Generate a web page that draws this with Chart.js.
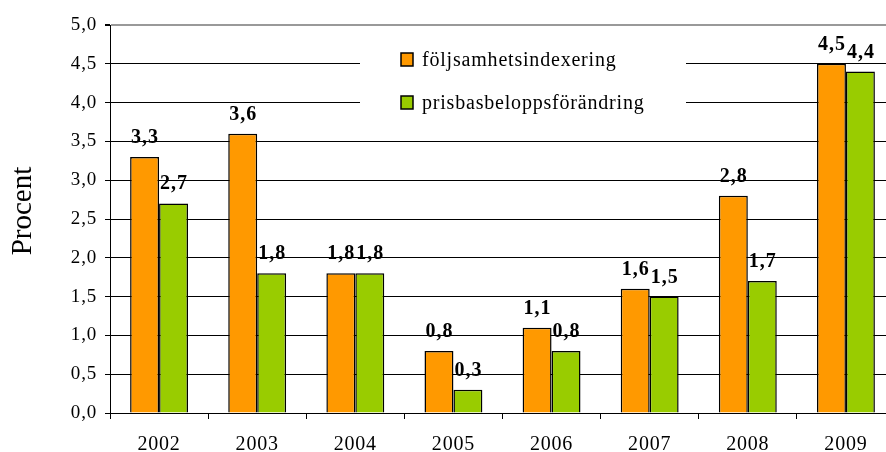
<!DOCTYPE html>
<html>
<head>
<meta charset="utf-8">
<script src="https://cdn.jsdelivr.net/npm/chart.js@4/dist/chart.umd.min.js"></script>
<style>
  html, body { margin: 0; padding: 0; background: #fff; }
  #wrap { width: 886px; height: 452px; overflow: hidden; position: relative; }
  canvas { display: block; }
</style>
</head>
<body>
<div id="wrap"><canvas id="c" width="900" height="452"></canvas></div>
<script>
const years = ['2002', '2003', '2004', '2005', '2006', '2007', '2008', '2009'];
const foljsamhet = [3.3, 3.6, 1.8, 0.8, 1.1, 1.6, 2.8, 4.5];
const prisbasbelopp = [2.7, 1.8, 1.8, 0.3, 0.8, 1.5, 1.7, 4.4];
const seriesNames = ['följsamhetsindexering', 'prisbasbeloppsförändring'];
const seriesColors = ['#FF9900', '#99CC00'];
const yTitle = 'Procent';

const fmt = v => v.toFixed(1).replace('.', ',');
const SERIF = '"Liberation Serif", "Times New Roman", serif';

const legendPlugin = {
  id: 'boxLegend',
  beforeDraw(chart) {
    chart.ctx.letterSpacing = '0.8px';
  },
  beforeDatasetsDraw(chart) {
    const ctx = chart.ctx;
    ctx.save();
    ctx.fillStyle = '#fff';
    ctx.fillRect(360, 30, 326, 95);
    const rows = [{sy: 53, ty: 66}, {sy: 96, ty: 109}];
    ctx.font = '20px ' + SERIF;
    ctx.letterSpacing = '0.8px';
    ctx.textBaseline = 'alphabetic';
    ctx.textAlign = 'left';
    seriesNames.forEach((n, i) => {
      ctx.fillStyle = seriesColors[i];
      ctx.fillRect(401, rows[i].sy, 12, 13);
      ctx.lineWidth = 1.5;
      ctx.strokeStyle = '#000';
      ctx.strokeRect(401, rows[i].sy, 12, 13);
      ctx.fillStyle = '#000';
      ctx.fillText(n, 422, rows[i].ty);
    });
    // y-axis title
    const a = chart.chartArea;
    ctx.translate(23.4, 211);
    ctx.rotate(-Math.PI / 2);
    ctx.font = '29px ' + SERIF;
    ctx.letterSpacing = '0px';
    ctx.textAlign = 'center';
    ctx.textBaseline = 'middle';
    ctx.fillText(yTitle, 0, 0);
    ctx.restore();
  },
  afterDatasetsDraw(chart) {
    const ctx = chart.ctx;
    ctx.save();
    ctx.font = 'bold 20px ' + SERIF;
    ctx.letterSpacing = '1px';
    ctx.fillStyle = '#000';
    ctx.textAlign = 'center';
    ctx.textBaseline = 'alphabetic';
    chart.data.datasets.forEach((ds, di) => {
      const meta = chart.getDatasetMeta(di);
      meta.data.forEach((el, i) => {
        ctx.fillText(fmt(ds.data[i]), el.x + 0.5, el.y - 14);
      });
    });
    ctx.restore();
  }
};

new Chart(document.getElementById('c'), {
  type: 'bar',
  data: {
    labels: years,
    datasets: [
      { label: seriesNames[0], data: foljsamhet, backgroundColor: seriesColors[0], borderColor: '#000', borderWidth: 1.5 },
      { label: seriesNames[1], data: prisbasbelopp, backgroundColor: seriesColors[1], borderColor: '#000', borderWidth: 1.5 }
    ]
  },
  options: {
    responsive: false,
    animation: false,
    devicePixelRatio: 1,
    layout: { padding: { top: 25, right: 5, left: 0, bottom: 0 } },
    datasets: { bar: { categoryPercentage: 0.59, barPercentage: 1.0 } },
    plugins: { legend: { display: false }, tooltip: { enabled: false } },
    scales: {
      x: {
        afterFit(s) { s.height = 39; },
        grid: { drawOnChartArea: false, drawTicks: true, tickLength: 6, color: '#000', offset: true },
        border: { color: '#000', width: 1 },
        ticks: { color: '#000', font: { family: SERIF, size: 20 }, padding: 14 }
      },
      y: {
        min: 0, max: 5,
        afterFit(s) { s.width = 110; },
        grid: {
          color: c => (c.tick && c.tick.value === 5) ? '#999' : '#000',
          lineWidth: c => (c.tick && c.tick.value === 5) ? 2 : 1,
          tickLength: 5,
          tickColor: '#000'
        },
        border: { color: '#000', width: 1 },
        ticks: { stepSize: 0.5, color: '#000', font: { family: SERIF, size: 19 }, padding: 8, callback: v => fmt(v) },
        title: { display: false }
      }
    }
  },
  plugins: [legendPlugin]
});
</script>
</body>
</html>
